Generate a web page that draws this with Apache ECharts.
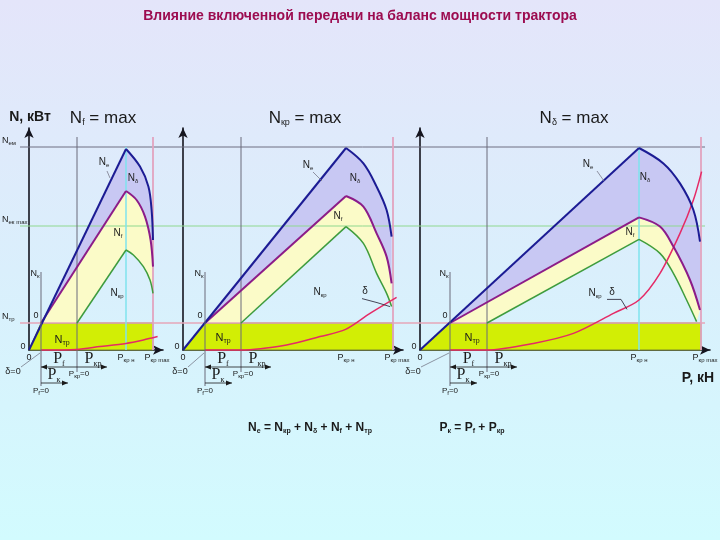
<!DOCTYPE html>
<html><head><meta charset="utf-8">
<script src="https://cdn.jsdelivr.net/npm/echarts@6/dist/echarts.min.js"></script>
<style>html,body{margin:0;padding:0;}#c{width:720px;height:540px;}</style>
</head><body><div id="c"></div>
<script>
// ---------------- DATA (chart units: P in kN, N in kW) ----------------
const chartTitle = 'Влияние включенной передачи на баланс мощности трактора';
const panelTitles = ['N_{f} = max', 'N_{кр} = max', 'N_{δ} = max'];
const formulaPower = 'N_{е} = N_{кр} + N_{δ} + N_{f} + N_{тр}';
const formulaForce = 'P_{к} = P_{f} + P_{кр}';
const yAxisName = 'N, кВт';
const xAxisName = 'P, кН';

// reference power levels (horizontal lines)
const levelValues = [101.5, 62, 13.5];
const levelNames = ['N_{ем}', 'N_{ек max}', 'N_{тр}'];

// key forces for each gear (panel)
const pF = [6, 11, 15];            // P_f  (rolling resistance)
const pKr0 = [24, 29, 33.5];       // P_кр = 0 line
const pKrN = [48.5, 81.5, 109.5];  // P_кр н
const pKrMax = [62, 105, 140.5];   // P_кр max
const nKAxisTop = 39;
const xMax = [67, 110, 145];
const yMax = 111;

// N_е curves (blue)
const powerE1 = [[0,0],[48.5,100.5],[55.5,91.7],[59.7,81.7],[61.3,70],[62,55]];
const powerE2 = [[0,0],[81.5,101],[90.2,93.3],[96.8,81.7],[101.8,70],[104.3,56.7]];
const powerE3 = [[0,0],[109.5,101],[121.7,93.3],[130,83.3],[136.7,70],[140,54.2]];
// N_е − N_δ curves (purple)
const powerK1 = [[6,13.5],[48.5,79.5],[53.8,75],[58,66.7],[60.8,55],[62,41.7]];
const powerK2 = [[11,13.5],[81.5,77],[90.2,71.7],[96.8,58.3],[101.8,46.7],[104.3,33.3]];
const powerK3 = [[15,13.5],[109.5,66.3],[120,61.7],[126.7,51.7],[135,35],[140,20]];
// N_кр curves (green)
const powerKr1 = [[24,13.5],[48.5,50],[52.2,47.5],[57.2,41.7],[60.5,35],[62,28.3]];
const powerKr2 = [[29,13.5],[81.5,61.7],[90.2,53.3],[96.8,38.3],[101.8,28.3],[104.3,21.7]];
const powerKr3 = [[33.5,13.5],[109.5,55.3],[120,48.3],[126.7,38.3],[133.3,25],[138.3,14.2]];
// slip δ curves (red)
const slip1 = [[6,0],[23.8,0.3],[35.5,1.7],[48.5,3.3],[57.2,5],[64.3,6.7]];
const slip2 = [[11,0],[29,0],[51.8,2.5],[68.5,6.7],[81.3,10.3],[93.5,18.3],[106.8,26.3]];
const slip3 = [[15,0],[33.3,0],[56.7,3.3],[76.7,8.3],[96.7,18.3],[109.5,25],[120,38.3],[130,58.3],[136.7,75],[140.8,89.2]];

const powerE = [powerE1, powerE2, powerE3];
const powerK = [powerK1, powerK2, powerK3];
const powerKr = [powerKr1, powerKr2, powerKr3];
const slip = [slip1, slip2, slip3];
const showNominal = [true, false, true];

// ---------------- LAYOUT / STYLE ----------------
const SANS = '"Liberation Sans", Arial, sans-serif';
const SERIF = '"Liberation Serif", "Times New Roman", serif';
const PX = 2;
const gridLeft = [29, 183, 420];
const gridTop = 350 - PX * yMax;
const TXT = '#1a1a1a', GRAY = '#6a6a7a';
const LAYOUT = [
  {e:[-22,13], eLead:[[-19,22],[-16,29]], d:[7,29], f:[-8,42], kr:[-9,43], tr:[21,17], dz:-16},
  {e:[-38,17], eLead:[[-33,24],[-24,33]], d:[9,30], f:[-8,20], kr:[-26,66], tr:[18,15], dz:-3,
   delta:[19,65], dLead:[[16,72],[31,76],[44,80]]},
  {e:[-51,16], eLead:[[-42,23],[-35,33]], d:[6,29], f:[-9,15], kr:[-44,54], tr:[22,15], dz:-7,
   delta:[-27,53], dLead:[[-32,60],[-18,60],[-12,70]]}
];

function toRich(s) {
  let out = '', last = 0, m;
  const re = /_\{([^}]*)\}/g;
  while ((m = re.exec(s))) {
    if (m.index > last) out += '{b|' + s.slice(last, m.index) + '}';
    out += '{s|' + m[1] + '}';
    last = re.lastIndex;
  }
  if (last < s.length) out += '{b|' + s.slice(last) + '}';
  return out;
}
function rt(x, y, str, size, opt) {
  opt = opt || {};
  const fam = opt.family || SANS, w = opt.weight || 'normal', col = opt.color || TXT;
  const sub = opt.sub || Math.round(size * 0.62);
  return {type:'text', x: x, y: y - size / 2, silent: true, z2: 10, style: {
    text: toRich(str), align: opt.align || 'center', verticalAlign: 'top',
    rich: {
      b: {fontSize: size, lineHeight: size, verticalAlign: 'top', fontFamily: fam, fontWeight: w, fill: col},
      s: {fontSize: sub, lineHeight: size + 1, verticalAlign: 'bottom', fontFamily: fam, fontWeight: w, fill: col}
    }}};
}
function ln(x1, y1, x2, y2, color, w) {
  return {type:'line', silent:true, shape:{x1:x1, y1:y1, x2:x2, y2:y2}, style:{stroke:color, lineWidth:w}};
}
function pl(points, color, w) {
  return {type:'polyline', silent:true, shape:{points:points}, style:{stroke:color, lineWidth:w, fill:null}};
}
function arrowHead(x, y, dir, color) {
  return {type:'polygon', silent:true, shape:{points:[[x,y],[x-dir*6,y-2.5],[x-dir*6,y+2.5]]}, style:{fill:color}};
}

// ---------------- SERIES BUILDERS ----------------
function fillSeries(i) {
  return {type:'custom', xAxisIndex:i, yAxisIndex:i, z:1, silent:true, clip:false, data:[[0,0]],
    renderItem: function (params, api) {
      const e = powerE[i], k = powerK[i], kr = powerKr[i];
      const c = function (p) { return api.coord(p); };
      const lav = [k[0]].concat(e.slice(1), k.slice().reverse()).map(c);
      const yel = k.concat(kr.slice().reverse()).map(c);
      const rect = [e[0], k[0], [pKrMax[i], levelValues[2]], [pKrMax[i], 0]].map(c);
      return {type:'group', children:[
        {type:'polygon', shape:{points:rect}, style:{fill:'#d2ee05', stroke:'#7d8c2c', lineWidth:1}},
        {type:'polygon', shape:{points:yel}, style:{fill:'#fbfbc8'}},
        {type:'polygon', shape:{points:lav}, style:{fill:'#c8c8f3'}}
      ]};
    }};
}
function guideSeries(i) {
  return {type:'custom', xAxisIndex:i, yAxisIndex:i, z:2, silent:true, clip:false, data:[[0,0]],
    renderItem: function (params, api) {
      const o = api.coord([0, 0]);
      const gT = api.coord([pKr0[i], 106.5]);
      const mT = api.coord([pKrMax[i], 106.5]);
      const m0 = api.coord([pKrMax[i], 0]);
      const ch = [];
      ch.push(ln(gT[0], gT[1], gT[0], o[1] + 22, GRAY, 1));
      ch.push(ln(mT[0], mT[1], m0[0], m0[1], '#e2a4bf', 1.8));
      if (showNominal[i]) {
        const nT = api.coord([pKrN[i], levelValues[0]]);
        const n0 = api.coord([pKrN[i], 0]);
        ch.push(ln(nT[0], nT[1], n0[0], n0[1], '#7fe3ee', 1.5));
      }
      return {type:'group', children:ch};
    }};
}
function levelSeries() {
  return {type:'custom', xAxisIndex:3, yAxisIndex:3, z:2, silent:true, clip:false, data:[[0,0]],
    renderItem: function (params, api) {
      const cols = ['#6e6e82', '#8fd88f', '#e6a6b9'];
      const ws = [1, 1, 1.6];
      return {type:'group', children: levelValues.map(function (v, k) {
        const a = api.coord([0, v]), b = api.coord([1, v]);
        return ln(a[0], a[1], b[0], b[1], cols[k], ws[k]);
      })};
    }};
}
function curveSeries(i, data, color, width, split) {
  const base = {type:'line', xAxisIndex:i, yAxisIndex:i, symbol:'none', silent:true, z:4, clip:false,
    lineStyle:{color:color, width:width}};
  if (split) {
    return [Object.assign({}, base, {data: data.slice(0, 2)}),
            Object.assign({}, base, {data: data.slice(1), smooth: 0.35})];
  }
  return [Object.assign({}, base, {data: data, smooth: 0.3})];
}
function annotationSeries(i) {
  return {type:'custom', xAxisIndex:i, yAxisIndex:i, z:6, silent:true, clip:false, data:[[0,0]],
    renderItem: function (params, api) {
      const L = LAYOUT[i];
      const o = api.coord([0, 0]);
      const a = api.coord([pF[i], 0]);
      const aTop = api.coord([pF[i], nKAxisTop]);
      const aL = api.coord([pF[i], levelValues[2]]);
      const g = api.coord([pKr0[i], 0]);
      const n = api.coord([pKrN[i], 0]);
      const m = api.coord([pKrMax[i], 0]);
      const pe = api.coord(powerE[i][1]);
      const pk = api.coord(powerK[i][1]);
      const pkr = api.coord(powerKr[i][1]);
      const off = function (p, d) { return [p[0] + d[0], p[1] + d[1]]; };
      const ch = [];
      // small N_к axis
      ch.push(ln(a[0], aTop[1], a[0], o[1] + 36, GRAY, 1));
      ch.push(rt(a[0] - 6, aTop[1] + 2, 'N_{к}', 9));
      ch.push(rt(aL[0] - 5, aL[1] - 7, '0', 9));
      ch.push(rt(o[0] - 6, o[1] - 3, '0', 9));
      ch.push(rt(o[0], o[1] + 8, '0', 9));
      // x labels
      ch.push(rt((a[0] + g[0]) / 2, o[1] + 9, 'P_{f}', 16, {family:SERIF, sub:8}));
      ch.push(rt(g[0] + 16, o[1] + 9, 'P_{кр}', 16, {family:SERIF, sub:8}));
      ch.push(rt(n[0], o[1] + 8, 'P_{кр н}', 9, {sub:6}));
      ch.push(rt(m[0] + 4, o[1] + 8, 'P_{кр max}', 9, {sub:6}));
      // dimension lines
      const y1 = o[1] + 17, y2 = o[1] + 33;
      ch.push(ln(a[0], y1, g[0] + 30, y1, TXT, 0.8));
      ch.push(arrowHead(a[0], y1, -1, TXT), arrowHead(g[0] + 30, y1, 1, TXT));
      ch.push(rt(g[0] + 2, o[1] + 24, 'P_{кр}=0', 8, {sub:6}));
      ch.push(ln(a[0], y2, a[0] + 27, y2, TXT, 0.8), arrowHead(a[0] + 27, y2, 1, TXT));
      ch.push(rt(a[0] + 13, o[1] + 25, 'P_{к}', 16, {family:SERIF, sub:8}));
      ch.push(rt(a[0], o[1] + 41, 'P_{f}=0', 8, {sub:6}));
      ch.push(rt(o[0] + L.dz, o[1] + 22, 'δ=0', 9));
      ch.push(ln(o[0] + L.dz + 8, o[1] + 17, a[0] - 1, o[1] + 3, GRAY, 0.7));
      // curve labels
      const eP = off(pe, L.e);
      ch.push(rt(eP[0], eP[1], 'N_{е}', 10));
      ch.push(pl(L.eLead.map(function (d) { return off(pe, d); }), '#7a7a8a', 0.8));
      const dP = off(pe, L.d);
      ch.push(rt(dP[0], dP[1], 'N_{δ}', 10));
      const fP = off(pk, L.f);
      ch.push(rt(fP[0], fP[1], 'N_{f}', 10));
      const kP = off(pkr, L.kr);
      ch.push(rt(kP[0], kP[1], 'N_{кр}', 10));
      if (L.delta) {
        const sP = off(pkr, L.delta);
        ch.push(rt(sP[0], sP[1], 'δ', 10));
        ch.push(pl(L.dLead.map(function (d) { return off(pkr, d); }), '#333344', 0.9));
      }
      const tP = off(aL, L.tr);
      ch.push(rt(tP[0], tP[1], 'N_{тр}', 11));
      if (i === 0) {
        levelValues.forEach(function (v, k) {
          const p = api.coord([0, v]);
          ch.push(rt(2, p[1] - 6, levelNames[k], 9, {align:'left', sub:6}));
        });
      }
      return {type:'group', children:ch};
    }};
}

// ---------------- OPTION ----------------
const axisLineStyle = {show:true, onZero:false, symbol:['none','arrow'], symbolSize:[7,10],
  lineStyle:{color:'#15151f', width:1.6}};
const grids = [0,1,2].map(function (i) {
  return {left:gridLeft[i], top:gridTop, width:PX * xMax[i], height:PX * yMax};
});
grids.push({left:20, right:15, top:gridTop, height:PX * yMax});
const xAxes = [0,1,2].map(function (i) {
  return {gridIndex:i, type:'value', min:0, max:xMax[i], axisLine:axisLineStyle,
    axisTick:{show:false}, axisLabel:{show:false}, splitLine:{show:false}};
});
xAxes.push({gridIndex:3, type:'value', min:0, max:1, show:false});
const yAxes = [0,1,2].map(function (i) {
  return {gridIndex:i, type:'value', min:0, max:yMax, axisLine:axisLineStyle,
    axisTick:{show:false}, axisLabel:{show:false}, splitLine:{show:false}};
});
yAxes.push({gridIndex:3, type:'value', min:0, max:yMax, show:false});

let series = [levelSeries()];
[0,1,2].forEach(function (i) {
  series.push(fillSeries(i), guideSeries(i));
  series = series.concat(
    curveSeries(i, powerKr[i], '#3e9c3e', 1.5, true),
    curveSeries(i, slip[i], '#e52a66', 1.5, false),
    curveSeries(i, powerK[i], '#8c1c88', 2, true),
    curveSeries(i, powerE[i], '#1c1c94', 2, true)
  );
  series.push(annotationSeries(i));
});

const graphics = [
  rt(30, 117, yAxisName, 14, {weight:'bold'}),
  rt(698, 378, xAxisName, 14, {weight:'bold'}),
  rt(103, 118, panelTitles[0], 17, {sub:9}),
  rt(305, 118, panelTitles[1], 17, {sub:9}),
  rt(574, 118, panelTitles[2], 17, {sub:9}),
  rt(310, 428, formulaPower, 12, {weight:'bold', sub:7}),
  rt(472, 428, formulaForce, 12, {weight:'bold', sub:7})
];

const chart = echarts.init(document.getElementById('c'), null, {renderer:'canvas'});
chart.setOption({
  animation:false,
  backgroundColor:{type:'linear', x:0, y:0, x2:0, y2:1, colorStops:[
    {offset:0, color:'#e4e5fa'}, {offset:0.5, color:'#daeffc'}, {offset:1, color:'#d2fbfe'}]},
  title:{text:chartTitle, left:'center', top:9, padding:0,
    textStyle:{color:'#9c0c50', fontSize:14, fontWeight:'bold', fontFamily:SANS}},
  grid:grids, xAxis:xAxes, yAxis:yAxes,
  graphic:graphics,
  series:series
});
</script></body></html>
